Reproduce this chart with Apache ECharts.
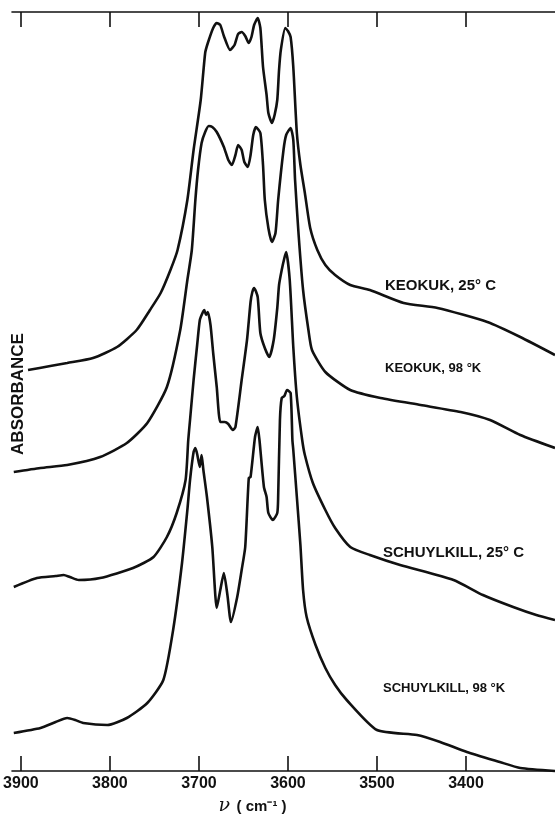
<!DOCTYPE html>
<html>
<head>
<meta charset="utf-8">
<script src="https://cdn.jsdelivr.net/npm/echarts@6/dist/echarts.min.js"></script>
<style>
  html, body { margin: 0; padding: 0; background: #fff; }
  #chart { width: 555px; height: 814px; }
</style>
</head>
<body>
<div id="chart"></div>
<script>
// ---- Data (wavenumber in cm^-1, absorbance in arbitrary offset units) ----
const xTicks = [3900, 3800, 3700, 3600, 3500, 3400];
const seriesNames = ['KEOKUK, 25° C', 'KEOKUK, 98 °K', 'SCHUYLKILL, 25° C', 'SCHUYLKILL, 98 °K'];

const k25Wn = [3892,3867,3848,3819,3792,3770,3755,3743,3732,3724,3713,3706,3698,3693,3690,3684,3680,3676,3672,3665,3660,3656,3652,3648,3644,3641,3638,3634,3631,3628,3624,3622,3618,3615,3612,3610,3608,3603,3600,3597,3594,3590,3586,3581,3575,3567,3558,3547,3530,3508,3470,3432,3376,3339,3300];
const k25A  = [4.01,4.05,4.08,4.13,4.24,4.41,4.61,4.78,5.01,5.21,5.71,6.21,6.71,7.18,7.28,7.43,7.48,7.46,7.35,7.21,7.26,7.37,7.39,7.35,7.28,7.34,7.46,7.53,7.43,7.04,6.76,6.58,6.48,6.56,6.71,7.01,7.21,7.43,7.40,7.34,7.04,6.38,6.06,5.78,5.43,5.21,5.06,4.96,4.86,4.81,4.68,4.63,4.49,4.34,4.16];

const k98Wn = [3908,3878,3848,3811,3781,3758,3736,3721,3713,3708,3704,3701,3697,3693,3689,3685,3680,3672,3667,3663,3659,3656,3652,3649,3645,3642,3639,3636,3631,3628,3626,3622,3618,3614,3611,3605,3602,3597,3594,3592,3588,3583,3577,3573,3558,3530,3496,3451,3406,3373,3339,3300];
const k98A  = [2.99,3.03,3.06,3.14,3.28,3.48,3.84,4.41,4.91,5.21,5.71,6.01,6.28,6.39,6.45,6.44,6.39,6.24,6.11,6.06,6.16,6.26,6.21,6.09,6.04,6.16,6.36,6.44,6.38,6.06,5.71,5.43,5.29,5.38,5.71,6.21,6.36,6.43,6.31,5.91,5.36,4.81,4.41,4.21,3.99,3.81,3.73,3.66,3.59,3.51,3.36,3.23];

const s25Wn = [3908,3882,3861,3852,3845,3835,3811,3774,3751,3736,3725,3715,3712,3710,3706,3702,3699,3696,3694,3692,3690,3687,3684,3680,3676,3671,3667,3662,3659,3652,3646,3642,3640,3638,3634,3631,3626,3621,3616,3612,3610,3607,3604,3602,3598,3594,3590,3584,3581,3572,3558,3547,3530,3508,3474,3414,3381,3347,3321,3300];
const s25A  = [1.84,1.93,1.95,1.96,1.94,1.91,1.93,2.03,2.14,2.34,2.58,2.91,3.31,3.51,3.91,4.26,4.51,4.58,4.61,4.56,4.59,4.46,4.18,3.84,3.49,3.49,3.47,3.41,3.44,3.91,4.31,4.69,4.79,4.83,4.74,4.38,4.23,4.14,4.31,4.63,4.86,5.01,5.13,5.19,4.91,4.24,3.74,3.31,3.16,2.88,2.61,2.43,2.24,2.16,2.06,1.91,1.76,1.64,1.56,1.51];

const s98Wn = [3908,3878,3861,3848,3839,3830,3803,3781,3758,3740,3729,3719,3713,3710,3706,3704,3702,3699,3697,3695,3691,3685,3680,3676,3672,3668,3664,3657,3652,3648,3644,3642,3637,3634,3632,3627,3624,3622,3617,3612,3611,3609,3607,3604,3601,3597,3595,3594,3590,3586,3583,3579,3569,3558,3547,3534,3500,3455,3429,3399,3362,3339,3300];
const s98A  = [0.38,0.43,0.49,0.53,0.51,0.48,0.46,0.53,0.68,0.91,1.41,2.08,2.61,2.91,3.19,3.23,3.17,3.04,3.16,3.01,2.74,2.24,1.63,1.81,1.98,1.76,1.49,1.74,2.01,2.24,2.93,2.94,3.34,3.44,3.31,2.84,2.74,2.58,2.51,2.58,2.74,3.51,3.73,3.75,3.81,3.78,3.31,3.21,2.74,2.26,1.81,1.54,1.26,1.03,0.86,0.71,0.41,0.36,0.29,0.19,0.09,0.03,0.00];

// ---- Build ----
function zip(xs, ys) {
  const n = Math.min(xs.length, ys.length);
  const out = [];
  for (let i = 0; i < n; i++) out.push([xs[i], ys[i]]);
  return out;
}
const curves = [zip(k25Wn, k25A), zip(k98Wn, k98A), zip(s25Wn, s25A), zip(s98Wn, s98A)];

const INK = '#111';
const FONT = '"Liberation Sans", Arial, sans-serif';

const chart = echarts.init(document.getElementById('chart'), null, { renderer: 'canvas' });

const axisCommon = {
  type: 'value',
  min: 3300,
  max: 3910,
  inverse: true,
  axisLine: { show: true, lineStyle: { color: INK, width: 1.6 } },
  axisTick: { show: true, inside: true, length: 15, customValues: xTicks, lineStyle: { color: INK, width: 1.6 } },
  splitLine: { show: false }
};

chart.setOption({
  animation: false,
  backgroundColor: '#fff',
  grid: { left: 12, right: 0, top: 12, bottom: 43, containLabel: false, outerBoundsMode: 'none' },
  xAxis: [
    Object.assign({}, axisCommon, {
      position: 'bottom',
      axisLabel: {
        customValues: xTicks, color: INK, fontSize: 16, fontWeight: 'bold',
        fontFamily: FONT, margin: 5,
        formatter: function (v) { return String(v); }
      },
      name: '{nu|ν}  {u|( cm⁻¹ )}',
      nameLocation: 'middle',
      nameGap: 26,
      nameTextStyle: {
        padding: [0, 62, 0, 0],
        rich: {
          nu: { fontFamily: '"DejaVu Serif", serif', fontStyle: 'italic', fontSize: 19, color: INK },
          u: { fontFamily: FONT, fontWeight: 'bold', fontSize: 15, color: INK }
        }
      }
    }),
    Object.assign({}, axisCommon, {
      position: 'top',
      axisLabel: { show: false }
    })
  ],
  yAxis: { type: 'value', min: 0, max: 7.59, show: false },
  series: curves.map((d, i) => ({
    name: seriesNames[i],
    type: 'line',
    xAxisIndex: 0,
    data: d,
    showSymbol: false,
    smooth: 0.2,
    lineStyle: { color: INK, width: 2.6 },
    clip: false
  })),
  graphic: [
    { type: 'text', x: 18, y: 394, rotation: Math.PI / 2,
      style: { text: 'ABSORBANCE', fill: INK, font: 'bold 17px ' + FONT, textAlign: 'center', textVerticalAlign: 'middle' } },
    { type: 'text', x: 385, y: 286,
      style: { text: seriesNames[0], fill: INK, font: 'bold 15px ' + FONT, textAlign: 'left', textVerticalAlign: 'middle' } },
    { type: 'text', x: 385, y: 368,
      style: { text: seriesNames[1], fill: INK, font: 'bold 13px ' + FONT, textAlign: 'left', textVerticalAlign: 'middle' } },
    { type: 'text', x: 383, y: 553,
      style: { text: seriesNames[2], fill: INK, font: 'bold 15px ' + FONT, textAlign: 'left', textVerticalAlign: 'middle' } },
    { type: 'text', x: 383, y: 688,
      style: { text: seriesNames[3], fill: INK, font: 'bold 13px ' + FONT, textAlign: 'left', textVerticalAlign: 'middle' } }
  ]
});
</script>
</body>
</html>
